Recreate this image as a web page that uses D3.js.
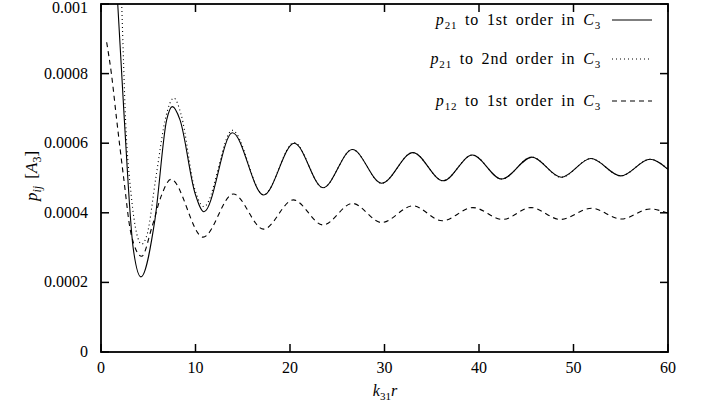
<!DOCTYPE html>
<html>
<head>
	<title>p_ij vs k31 r</title>
	<style type="text/css">
		body{ margin:0; background:#fff; }
		text{ font-family:"Liberation Serif", "DejaVu Serif", serif; fill:#000; }
	</style>
</head>
<body>
	<svg width=701 height=405 class="chart"></svg>
	<script type="text/javascript" src="https://cdn.jsdelivr.net/npm/d3@7"></script>
	<script type="text/javascript">

		// values: [k31 r, p_ij]
		p21_first = [[1.0,0.00140],[1.77,0.00100],[2.47,0.000667],[3.4,0.00030],[4.23,0.000216],[5.7,0.000379],
			[6.95,0.000667],[7.55,0.000705],[8.36,0.000667],[9.95,0.000456],[10.9,0.000403],[13.9,0.00063],
			[17.2,0.000451],[20.45,0.0006],[23.5,0.000472],[26.6,0.000582],[29.7,0.000485],[33.0,0.000573],
			[36.2,0.000492],[39.3,0.000566],[42.4,0.000497],[45.6,0.00056],[48.7,0.000502],[51.85,0.000556],
			[55.0,0.000506],[58.1,0.000554],[60,0.000525]]

		p21_second = [[1.5,0.0016],[2.19,0.001],[2.6,0.000667],[3.2,0.00045],[3.77,0.000341],[4.3,0.00031],
			[4.9,0.00034],[5.8,0.0005],[6.9,0.00068],[7.7,0.00073],[8.5,0.00068],[9.9,0.00047],[10.9,0.000418],
			[13.9,0.000637],[17.2,0.000452],[20.45,0.000602],[23.5,0.000472],[26.6,0.000582],[29.7,0.000485],
			[33.0,0.000573],[36.2,0.000492],[39.3,0.000566],[42.4,0.000497],[45.6,0.00056],[48.7,0.000502],
			[51.85,0.000556],[55.0,0.000506],[58.1,0.000554],[60,0.000525]]

		p12_first = [[0.6,0.00089],[1.1,0.0008],[1.66,0.000667],[2.4,0.0005],[3.17,0.000341],[4.3,0.000275],
			[5.4,0.00036],[6.4,0.00045],[7.4,0.000496],[10.8,0.00033],[14.0,0.000454],[17.2,0.000353],
			[20.35,0.000437],[23.5,0.000365],[26.6,0.000427],[29.7,0.000372],[33.0,0.00042],[36.1,0.000377],
			[39.35,0.000415],[42.5,0.000381],[45.5,0.000415],[48.6,0.000381],[51.9,0.000413],[55.05,0.000382],
			[58.1,0.000411],[60,0.000399]]

		x_ticks = [0, 10, 20, 30, 40, 50, 60]
		y_ticks = [0, 0.0002, 0.0004, 0.0006, 0.0008, 0.001]
		y_tick_labels = ['0', '0.0002', '0.0004', '0.0006', '0.0008', '0.001']

		legend_items = [
			{'p':'21', 'order':'1st', 'dash':null},
			{'p':'21', 'order':'2nd', 'dash':'1,3'},
			{'p':'12', 'order':'1st', 'dash':'5,4'}
		]

		svg = d3.select('.chart')
		// plot box (window.top is read-only, so no bare "top")
		box = {'left':101, 'right':668, 'top':4, 'bottom':352}

		x = d3.scaleLinear().domain([0, 60]).range([box.left, box.right])
		y = d3.scaleLinear().domain([0, 0.001]).range([box.bottom, box.top])

		svg.append('defs').append('clipPath').attr('id', 'plot-clip')
			.append('rect')
			.attr('x', box.left).attr('y', box.top)
			.attr('width', box.right - box.left).attr('height', box.bottom - box.top)

		// curves
		line = d3.line()
			.x(function(d){ return x(d[0]) })
			.y(function(d){ return y(d[1]) })
			.curve(d3.curveMonotoneX)

		series = [
			{'data':p21_first, 'dash':null},
			{'data':p21_second, 'dash':'1,3'},
			{'data':p12_first, 'dash':'5,4'}
		]

		svg.append('g')
			.attr('clip-path', 'url(#plot-clip)')
			.selectAll('path')
			.data(series)
			.enter()
			.append('path')
			.attr('d', function(d){ return line(d.data) })
			.attr('fill', 'none')
			.attr('stroke', '#000')
			.attr('stroke-width', 1.1)
			.attr('stroke-dasharray', function(d){ return d.dash })

		// ticks, mirrored on all four sides
		tick_len = 8
		ticks_g = svg.append('g').attr('stroke', '#000').attr('stroke-width', 1.5)

		x_ticks.forEach(function(t){
			ticks_g.append('line').attr('x1', x(t)).attr('x2', x(t)).attr('y1', box.bottom).attr('y2', box.bottom - tick_len)
			ticks_g.append('line').attr('x1', x(t)).attr('x2', x(t)).attr('y1', box.top).attr('y2', box.top + tick_len)
		})
		y_ticks.forEach(function(t){
			ticks_g.append('line').attr('x1', box.left).attr('x2', box.left + tick_len).attr('y1', y(t)).attr('y2', y(t))
			ticks_g.append('line').attr('x1', box.right).attr('x2', box.right - tick_len).attr('y1', y(t)).attr('y2', y(t))
		})

		svg.append('rect')
			.attr('x', box.left).attr('y', box.top)
			.attr('width', box.right - box.left).attr('height', box.bottom - box.top)
			.attr('fill', 'none')
			.attr('stroke', '#000')
			.attr('stroke-width', 1.8)

		// tick labels
		svg.append('g')
			.selectAll('text')
			.data(x_ticks)
			.enter()
			.append('text')
			.attr('x', function(d){ return x(d) })
			.attr('y', 373)
			.attr('text-anchor', 'middle')
			.attr('font-size', 16)
			.text(function(d){ return d })

		svg.append('g')
			.selectAll('text')
			.data(y_ticks)
			.enter()
			.append('text')
			.attr('x', 88)
			.attr('y', function(d){ return Math.max(y(d) + 5, 13) })
			.attr('text-anchor', 'end')
			.attr('font-size', 16)
			.text(function(d, i){ return y_tick_labels[i] })

		// axis titles
		xl = svg.append('text')
			.attr('x', 385).attr('y', 396)
			.attr('text-anchor', 'middle')
			.attr('font-size', 16)
		xl.append('tspan').attr('font-style', 'italic').text('k')
		xl.append('tspan').attr('font-size', 11).attr('dy', 4).text('31')
		xl.append('tspan').attr('font-style', 'italic').attr('dy', -4).text('r')

		yl = svg.append('text')
			.attr('transform', 'translate(37,176) rotate(-90)')
			.attr('text-anchor', 'middle')
			.attr('font-size', 17)
			.attr('word-spacing', 3)
		yl.append('tspan').attr('font-style', 'italic').text('p')
		yl.append('tspan').attr('font-style', 'italic').attr('font-size', 12).attr('dy', 4).text('ij')
		yl.append('tspan').attr('dy', -4).text(' [')
		yl.append('tspan').attr('font-style', 'italic').text('A')
		yl.append('tspan').attr('font-size', 12).attr('dy', 4).text('3')
		yl.append('tspan').attr('dy', -4).text(']')

		// legend
		legend_y = [20, 59, 101]
		legend = svg.append('g')

		legend_items.forEach(function(d, i){
			t = legend.append('text')
				.attr('x', 601).attr('y', legend_y[i] + 5)
				.attr('text-anchor', 'end')
				.attr('font-size', 16)
				.attr('letter-spacing', 0.8)
				.attr('word-spacing', 3)
			t.append('tspan').attr('font-style', 'italic').text('p')
			t.append('tspan').attr('font-size', 11).attr('dy', 4).text(d.p)
			t.append('tspan').attr('dy', -4).text(' to ' + d.order + ' order in ')
			t.append('tspan').attr('font-style', 'italic').text('C')
			t.append('tspan').attr('font-size', 11).attr('dy', 4).text('3')

			legend.append('line')
				.attr('x1', 612).attr('x2', 652)
				.attr('y1', legend_y[i]).attr('y2', legend_y[i])
				.attr('stroke', '#000')
				.attr('stroke-width', 1.1)
				.attr('stroke-dasharray', d.dash)
		})

	</script>
</body>
</html>
